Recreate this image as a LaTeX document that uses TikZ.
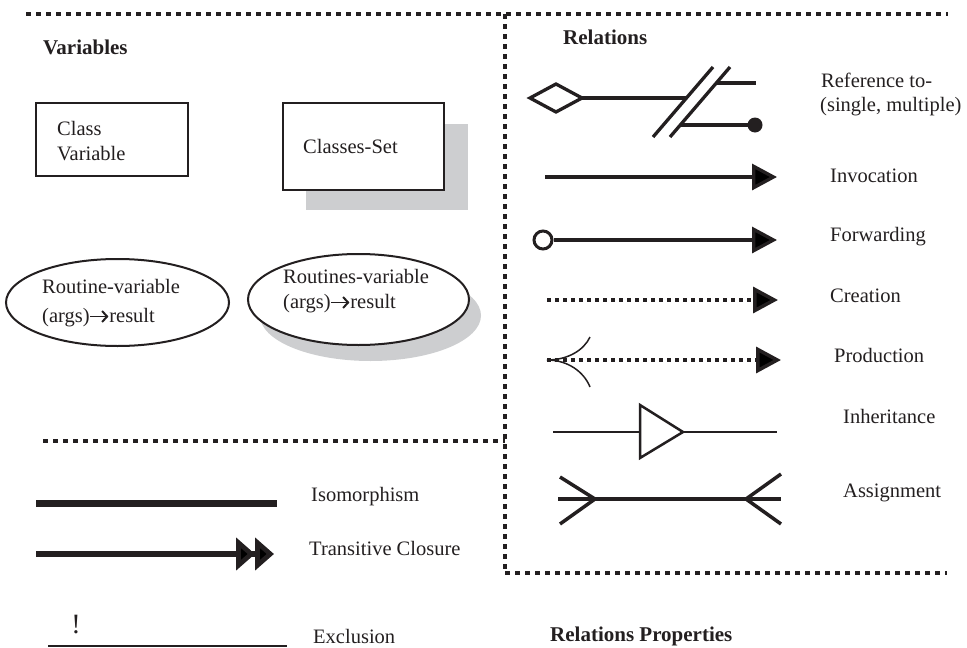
\documentclass[tikz,border=0pt]{standalone}
\usepackage{fontspec}
\setmainfont{Liberation Serif}
\usetikzlibrary{arrows.meta,shapes.geometric}
\definecolor{shadowgray}{RGB}{205,206,208}
\definecolor{ink}{RGB}{35,31,32}
% small heavy arrow used inside the routine signatures
\newcommand{\resarrow}{\tikz[baseline=0pt,x=1pt,y=1pt]{\draw[draw=ink,line width=1.6pt,-{Straight Barb[length=5pt,width=11pt,line width=2pt]}] (1,5.5) -- (19,5.5);}}
\tikzset{
  border/.style={draw=ink,line width=4.5pt,dash pattern=on 4.5pt off 5.5pt},
  fineline/.style={draw=ink,line width=3.3pt},
  dotline/.style={draw=ink,line width=3.5pt,dash pattern=on 3.5pt off 4.5pt},
  label/.style={inner sep=0pt,anchor=base west,text=ink,font=\fontsize{20.5}{24}\selectfont},
  heading/.style={label,font=\fontsize{21}{24}\selectfont\bfseries},
  varbox/.style={draw=ink,line width=2pt,fill=white,rectangle,inner sep=0pt},
  varoval/.style={draw=ink,line width=2pt,fill=white,ellipse,inner sep=0pt},
  bigtip/.style={-{Triangle[length=25pt,width=26pt]}},
}
\begin{document}
\begin{tikzpicture}[x=1pt,y=-1pt]
\useasboundingbox (0,0) rectangle (967,648);

% ---- dotted frame lines
\coordinate (t1) at (26,14);
\coordinate (t2) at (948,14);
\coordinate (v1) at (505,14);
\coordinate (v2) at (505,573);
\coordinate (m1) at (43,441);
\coordinate (m2) at (505,441);
\coordinate (b2) at (947,573);
\draw[border] (t1) -- (t2);
\draw[border] (v1) -- (v2);
\draw[border] (m1) -- (m2);
\draw[border] (v2) -- (b2);

% ---- headings
\node[heading] (hvar) at (43,54) {Variables};
\node[heading] (hrel) at (563,44) {Relations};
\node[heading] (hprop) at (550,641) {Relations Properties};

% ---- variables
\node[varbox,minimum width=152pt,minimum height=73pt] (cv) at (112,139.5) {};
\node[label] (cvt1) at (57,135) {Class};
\node[label] (cvt2) at (57,160) {Variable};

\fill[shadowgray] (306,124) rectangle (468,210);
\node[varbox,minimum width=161pt,minimum height=87pt] (cs) at (363.5,146.5) {};
\node[label] (cst) at (303,153) {Classes-Set};

\node[varoval,minimum width=223pt,minimum height=87pt] (rv) at (117.5,302.5) {};
\node[label] (rvt1) at (42,293) {Routine-variable};
\node[label] (rvt2) at (42,322) {(args)\resarrow result};

\fill[shadowgray] (370.5,315.5) ellipse (110.5pt and 45.5pt);
\node[varoval,minimum width=221pt,minimum height=91pt] (rs) at (358.5,299.5) {};
\node[label] (rst1) at (283,283) {Routines-variable};
\node[label] (rst2) at (283,308) {(args)\resarrow result};

% ---- relations
% reference to (single, multiple)
\coordinate (dl) at (530,98);
\coordinate (dt) at (556,84);
\coordinate (dr) at (582,98);
\coordinate (db) at (556,112);
\draw[fineline,line join=miter] (dl) -- (dt) -- (dr) -- (db) -- cycle;
\coordinate (refend) at (686,98);
\draw[fineline] (dr) -- (refend);
\coordinate (s1a) at (653,137);
\coordinate (s1b) at (713,67);
\coordinate (s2a) at (670,137);
\coordinate (s2b) at (730,67);
\draw[fineline] (s1a) -- (s1b);
\draw[fineline] (s2a) -- (s2b);
\coordinate (up1) at (716,83);
\coordinate (up2) at (756,83);
\draw[fineline] (up1) -- (up2);
\coordinate (lo1) at (680,125);
\node[circle,fill=ink,inner sep=0pt,minimum size=15pt] (lodot) at (755,125) {};
\draw[fineline] (lo1) -- (lodot.center);
\node[label] (lref1) at (821,87) {Reference to-};
\node[label] (lref2) at (820,111) {(single, multiple)};

% invocation
\coordinate (inv1) at (545,177);
\coordinate (inv2) at (777,177);
\draw[fineline,bigtip] (inv1) -- (inv2);
\node[label] (linv) at (830,182) {Invocation};

% forwarding
\node[circle,draw=ink,line width=3pt,fill=white,inner sep=0pt,minimum size=18pt] (fwc) at (543,240) {};
\coordinate (fw2) at (777,240);
\draw[fineline,bigtip] (fwc.east) -- (fw2);
\node[label] (lfw) at (830,241) {Forwarding};

% creation
\coordinate (cr1) at (547,300);
\coordinate (cr2) at (778,300);
\draw[dotline,bigtip] (cr1) -- (cr2);
\node[label] (lcr) at (830,302) {Creation};

% production
\coordinate (pr1) at (547,360);
\coordinate (pr2) at (781,360);
\draw[dotline,bigtip] (pr1) -- (pr2);
\coordinate (pru) at (590,337);
\coordinate (prd) at (590,387);
\draw[draw=ink,line width=1.5pt] (pr1) .. controls (568,360) and (584,350) .. (pru);
\draw[draw=ink,line width=1.5pt] (pr1) .. controls (568,360) and (584,372) .. (prd);
\node[label] (lpr) at (834,362) {Production};

% inheritance
\coordinate (in1) at (553,432);
\coordinate (inb) at (640,432);
\coordinate (int) at (640,405);
\coordinate (inp) at (683,432);
\coordinate (inl) at (640,458);
\coordinate (in2) at (777,432);
\draw[draw=ink,line width=2.5pt] (in1) -- (inb);
\draw[draw=ink,line width=2.5pt,line join=miter] (int) -- (inp) -- (inl) -- cycle;
\draw[draw=ink,line width=2.5pt] (inp) -- (in2);
\node[label] (lin) at (843,423) {Inheritance};

% assignment
\coordinate (as1) at (558,499);
\coordinate (as2) at (781,499);
\coordinate (asl) at (595,499);
\coordinate (asr) at (746,499);
\draw[draw=ink,line width=3.5pt] (as1) -- (as2);
\draw[draw=ink,line width=3.5pt] (560,477) -- (asl) -- (560,524);
\draw[draw=ink,line width=3.5pt] (781,474) -- (asr) -- (781,524);
\node[label] (las) at (843,497) {Assignment};

% ---- relation properties
\coordinate (iso1) at (36,503);
\coordinate (iso2) at (277,503);
\draw[draw=ink,line width=7pt] (iso1) -- (iso2);
\node[label] (liso) at (311,501) {Isomorphism};

\coordinate (tc1) at (36,554);
\coordinate (tc2) at (274,554);
\draw[draw=ink,line width=6pt,-{Triangle[length=19pt,width=32pt]Triangle[length=19pt,width=32pt]}] (tc1) -- (tc2);
\node[label] (ltc) at (309,555) {Transitive Closure};

\node[inner sep=0pt,anchor=base,text=ink,font=\fontsize{28}{30}\selectfont] (excl) at (76,633) {!};
\coordinate (ex1) at (48,646);
\coordinate (ex2) at (287,646);
\draw[draw=ink,line width=2pt] (ex1) -- (ex2);
\node[label] (lex) at (313,643) {Exclusion};
\end{tikzpicture}
\end{document}
